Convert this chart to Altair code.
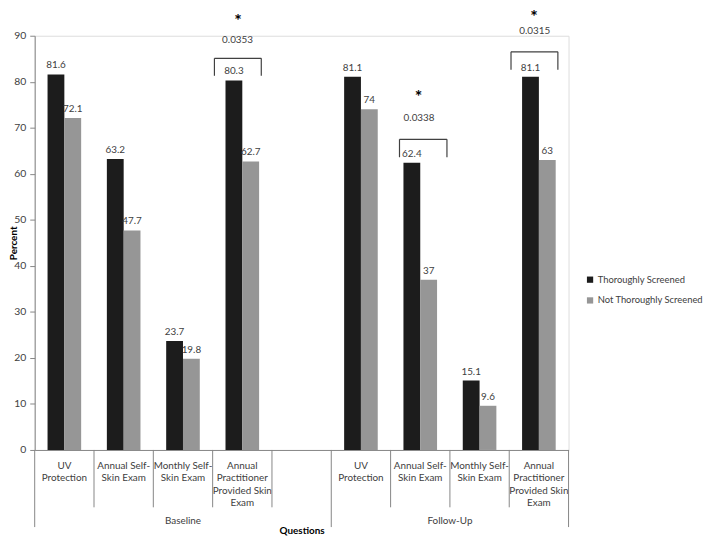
import altair as alt
import pandas as pd

# ---- data ----
keys = ["B1", "B2", "B3", "B4", "gap", "F1", "F2", "F3", "F4"]
cat_text = ["UV\nProtection", "Annual Self-\nSkin Exam", "Monthly Self-\nSkin Exam",
            "Annual\nPractitioner\nProvided Skin\nExam", "",
            "UV\nProtection", "Annual Self-\nSkin Exam", "Monthly Self-\nSkin Exam",
            "Annual\nPractitioner\nProvided Skin\nExam"]
bar_keys = ["B1", "B2", "B3", "B4", "F1", "F2", "F3", "F4"]
series = ["Thoroughly Screened", "Not Thoroughly Screened"]
thorough = [81.6, 63.2, 23.7, 80.3, 81.1, 62.4, 15.1, 81.1]
not_thorough = [72.1, 47.7, 19.8, 62.7, 74, 37, 9.6, 63]
groups = ["Baseline", "Follow-Up"]
group_center = [2.5, 7.0]
# significance annotations (category-unit x, percent y)
p_values = ["0.0353", "0.0338", "0.0315"]
p_x = [3.42, 6.48, 8.43]
p_y = [89.0, 72.2, 91.0]
star_x = [3.43, 6.47, 8.42]
star_y = [93.9, 77.4, 94.8]
br_x0 = [3.03, 6.15, 8.03]
br_x1 = [3.82, 6.95, 8.82]
br_top = [85.1, 67.5, 86.5]
br_bot = [81.3, 63.6, 82.6]
inner_div = [1, 2, 3, 4, 6, 7, 8]
outer_div = [0, 5, 9]

W, H = 540, 419
FONT = "Lato"
FS = 10
TXT = "#404040"
AX = "#868686"
YD = [0, 90]

rows = []
for k, a, b in zip(bar_keys, thorough, not_thorough):
    rows.append({"key": k, "series": series[0], "value": a, "label": f"{a:g}"})
    rows.append({"key": k, "series": series[1], "value": b, "label": f"{b:g}"})
bars_df = pd.DataFrame(rows)
cat_df = pd.DataFrame({"key": keys, "text": cat_text})
grp_df = pd.DataFrame({"x": group_center, "text": groups})
p_df = pd.DataFrame({"x": p_x, "y": p_y, "text": p_values})
star_df = pd.DataFrame({"x": star_x, "y": star_y, "text": ["*"] * 3})
br_df = pd.DataFrame({"x0": br_x0, "x1": br_x1, "top": br_top, "bottom": br_bot})
inner_df = pd.DataFrame({"x": inner_div})
outer_df = pd.DataFrame({"x": outer_div})

xs = alt.Scale(domain=keys, paddingInner=0, paddingOuter=0)
ys = alt.Scale(domain=YD, nice=False, zero=True)
qx = alt.Scale(domain=[0, 9], nice=False, zero=False)

bars = alt.Chart(bars_df).mark_bar().encode(
    x=alt.X("key:N", scale=xs, sort=keys,
            axis=alt.Axis(labels=False, ticks=False, domainColor=AX, title="Questions",
                          titleFont=FONT, titleFontSize=10, titleFontWeight="bold",
                          titleColor="#000000", titlePadding=76)),
    xOffset=alt.XOffset("series:N", sort=series,
                        scale=alt.Scale(paddingInner=0, paddingOuter=0.765)),
    y=alt.Y("value:Q", scale=ys,
            axis=alt.Axis(values=list(range(0, 91, 10)), grid=False, domainColor=AX,
                          tickColor=AX, tickSize=5, labelFont=FONT, labelFontSize=10.5,
                          labelColor=TXT, labelPadding=4, title="Percent",
                          titleFont=FONT, titleFontSize=10, titleFontWeight="bold",
                          titleColor="#000000", titleX=-16, titleY=H / 2,
                          titleAngle=270, titleBaseline="bottom", titleAlign="center")),
    color=alt.Color("series:N", sort=series,
                    scale=alt.Scale(domain=series, range=["#1c1c1c", "#969696"]),
                    legend=alt.Legend(title=None, orient="none", legendX=557, legendY=242,
                                      symbolType="square", symbolSize=40,
                                      symbolStrokeWidth=0, labelFont=FONT,
                                      labelFontSize=9.5, labelColor=TXT, labelOffset=3,
                                      rowPadding=10, padding=0)),
)

bar_labels = alt.Chart(bars_df).mark_text(
    baseline="bottom", dy=-4, font=FONT, fontSize=FS, color=TXT
).encode(
    x=alt.X("key:N", scale=xs, sort=keys),
    xOffset=alt.XOffset("series:N", sort=series,
                        scale=alt.Scale(paddingInner=0, paddingOuter=0.765)),
    y=alt.Y("value:Q", scale=ys),
    text="label:N",
)

cat_labels = alt.Chart(cat_df).mark_text(
    baseline="top", lineBreak="\n", lineHeight=12.7, font=FONT, fontSize=FS,
    color=TXT
).encode(
    x=alt.X("key:N", scale=xs, sort=keys),
    y=alt.value(H + 11),
    text="text:N",
)

band_layer = alt.layer(bars, bar_labels, cat_labels)

inner_rules = alt.Chart(inner_df).mark_rule(color=AX).encode(
    x=alt.X("x:Q", scale=qx, axis=None),
    y=alt.value(H), y2=alt.value(H + 58),
)
outer_rules = alt.Chart(outer_df).mark_rule(color=AX).encode(
    x=alt.X("x:Q", scale=qx, axis=None),
    y=alt.value(H), y2=alt.value(H + 78),
)
grp_labels = alt.Chart(grp_df).mark_text(
    baseline="middle", font=FONT, fontSize=FS, color=TXT
).encode(
    x=alt.X("x:Q", scale=qx, axis=None),
    y=alt.value(H + 72),
    text="text:N",
)
br_h = alt.Chart(br_df).mark_rule(color="#404040", strokeWidth=1.2).encode(
    x=alt.X("x0:Q", scale=qx, axis=None), x2="x1:Q",
    y=alt.Y("top:Q", scale=ys),
)
br_l = alt.Chart(br_df).mark_rule(color="#404040", strokeWidth=1.2).encode(
    x=alt.X("x0:Q", scale=qx, axis=None),
    y=alt.Y("bottom:Q", scale=ys), y2="top:Q",
)
br_r = alt.Chart(br_df).mark_rule(color="#404040", strokeWidth=1.2).encode(
    x=alt.X("x1:Q", scale=qx, axis=None),
    y=alt.Y("bottom:Q", scale=ys), y2="top:Q",
)
p_text = alt.Chart(p_df).mark_text(
    baseline="middle", font=FONT, fontSize=FS, color=TXT
).encode(
    x=alt.X("x:Q", scale=qx, axis=None),
    y=alt.Y("y:Q", scale=ys),
    text="text:N",
)
stars = alt.Chart(star_df).mark_text(
    baseline="middle", dy=4, font=FONT, fontSize=18, fontWeight="bold", color="#000000"
).encode(
    x=alt.X("x:Q", scale=qx, axis=None),
    y=alt.Y("y:Q", scale=ys),
    text="text:N",
)

quant_layer = alt.layer(inner_rules, outer_rules, grp_labels, br_h, br_l, br_r, p_text, stars)

chart = alt.layer(band_layer, quant_layer).resolve_scale(x="independent").properties(
    width=W, height=H,
    autosize=alt.AutoSizeParams(type="none"),
    padding={"left": 27, "top": 25, "right": 136, "bottom": 86},
).configure_view(stroke=None).configure(background="white")

chart.save("out.html", embed_options={"renderer": "svg", "actions": False})
